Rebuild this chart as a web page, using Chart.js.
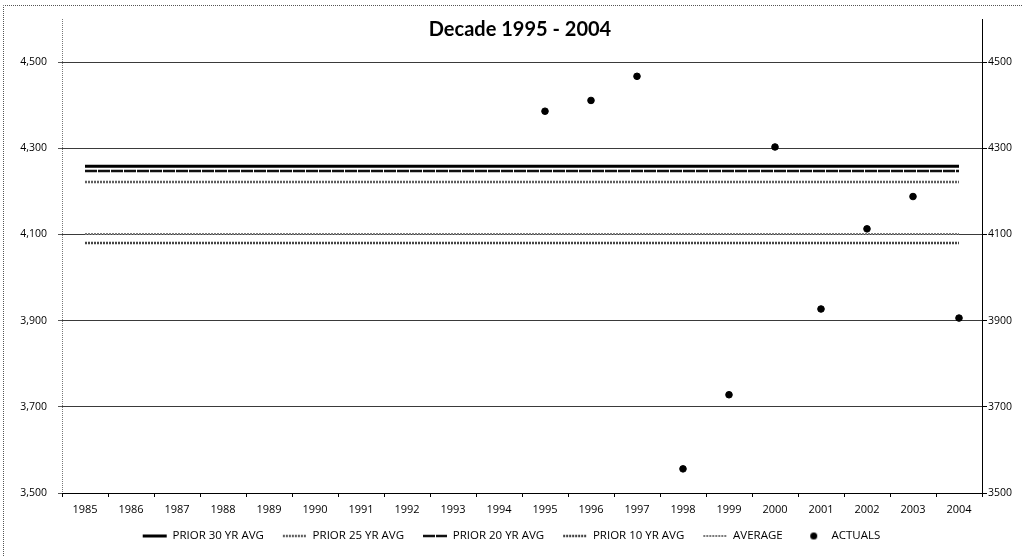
<!DOCTYPE html>
<html>
<head>
<meta charset="utf-8">
<script src="https://cdn.jsdelivr.net/npm/chart.js@4.4.1/dist/chart.umd.min.js"></script>
<style>
  html, body { margin: 0; padding: 0; background: #fff; }
  #wrap { width: 1023px; height: 556px; position: relative; }
</style>
</head>
<body>
<div id="wrap"><canvas id="c" width="1023" height="556"></canvas></div>
<script>
const chartTitle = 'Decade 1995 - 2004';
const years = ['1985','1986','1987','1988','1989','1990','1991','1992','1993','1994',
               '1995','1996','1997','1998','1999','2000','2001','2002','2003','2004'];
const prior30 = [4258,4258,4258,4258,4258,4258,4258,4258,4258,4258,4258,4258,4258,4258,4258,4258,4258,4258,4258,4258];
const prior25 = [4222,4222,4222,4222,4222,4222,4222,4222,4222,4222,4222,4222,4222,4222,4222,4222,4222,4222,4222,4222];
const prior20 = [4247,4247,4247,4247,4247,4247,4247,4247,4247,4247,4247,4247,4247,4247,4247,4247,4247,4247,4247,4247];
const prior10 = [4080,4080,4080,4080,4080,4080,4080,4080,4080,4080,4080,4080,4080,4080,4080,4080,4080,4080,4080,4080];
const average = [4101,4101,4101,4101,4101,4101,4101,4101,4101,4101,4101,4101,4101,4101,4101,4101,4101,4101,4101,4101];
const actuals = [null,null,null,null,null,null,null,null,null,null,
                 4386,4411,4467,3556,3728,4303,3927,4113,4188,3906];
const yTicks = [3500,3700,3900,4100,4300,4500];
const seriesNames = ['PRIOR 30 YR AVG','PRIOR 25 YR AVG','PRIOR 20 YR AVG','PRIOR 10 YR AVG','AVERAGE','ACTUALS'];

const FONT = '"Open Sans", sans-serif';
const TITLE_FONT = 'Lato, "Open Sans", sans-serif';
const LEGEND_SIZE = 11.5;
const LEGEND_PAD = 19;

// dot image for legend
const dot = document.createElement('canvas');
dot.width = 9; dot.height = 9;
(function(){ const g = dot.getContext('2d'); g.fillStyle = '#000'; g.beginPath(); g.arc(4.5,4.5,3.5,0,Math.PI*2); g.fill(); })();

const framePlugin = {
  id: 'frame',
  beforeLayout(chart) {
    const lg = chart.legend;
    if (lg && !lg.__patched) {
      const f = lg.fit;
      lg.fit = function() { f.call(this); this.height = 39; };
      lg.__patched = true;
    }
  },
  afterLayout(chart) {
    const lg = chart.legend;
    if (lg) {
      const top = 536 - LEGEND_PAD - LEGEND_SIZE / 2;
      lg.top = top; lg.bottom = top + lg.height;
    }
  },
  beforeDraw(chart) {
    const ctx = chart.ctx;
    ctx.save();
    ctx.fillStyle = '#fff';
    ctx.fillRect(0,0,chart.width,chart.height);
    ctx.strokeStyle = '#555';
    ctx.lineWidth = 1;
    ctx.setLineDash([1,1]);
    ctx.beginPath();
    ctx.moveTo(3.5, 556); ctx.lineTo(3.5, 5.5); ctx.lineTo(1023, 5.5);
    ctx.stroke();
    ctx.restore();
  },
  afterDraw(chart) {
    const ctx = chart.ctx;
    const a = chart.chartArea;
    ctx.save();
    // dotted left axis line
    ctx.strokeStyle = '#777';
    ctx.lineWidth = 1;
    ctx.setLineDash([1,1]);
    ctx.beginPath();
    ctx.moveTo(Math.round(a.left) + 0.5, a.top);
    ctx.lineTo(Math.round(a.left) + 0.5, a.bottom);
    ctx.stroke();
    ctx.setLineDash([]);
    ctx.fillStyle = '#000';
    ctx.font = 'bold 20px ' + TITLE_FONT;
    ctx.textAlign = 'center';
    ctx.textBaseline = 'middle';
    ctx.fillText(chartTitle, 520, 30);
    ctx.restore();
  }
};

const lineDs = (label, data, color, width, dash) => ({
  type: 'line', label, data, borderColor: color, backgroundColor: color,
  borderWidth: width, borderDash: dash, pointRadius: 0, pointHoverRadius: 0,
  fill: false, yAxisID: 'y', order: 2
});

new Chart(document.getElementById('c'), {
  type: 'line',
  data: {
    labels: years,
    datasets: [
      lineDs(seriesNames[0], prior30, '#000000', 3, []),
      lineDs(seriesNames[1], prior25, '#5e5e5e', 2.5, [2,1]),
      lineDs(seriesNames[2], prior20, '#111111', 2.5, [12,1]),
      lineDs(seriesNames[3], prior10, '#444444', 2.5, [2,1]),
      lineDs(seriesNames[4], average, '#7a7a7a', 2, [2,1]),
      {
        type: 'line', label: seriesNames[5], data: actuals, showLine: false,
        pointRadius: 3.3, pointHoverRadius: 3.3, pointBackgroundColor: '#000', pointBorderColor: '#000',
        borderColor: '#000', backgroundColor: '#000', yAxisID: 'y2', order: 1
      }
    ]
  },
  options: {
    responsive: false,
    animation: false,
    events: [],
    layout: { padding: { top: 19, left: 0, right: 0, bottom: 0 } },
    plugins: {
      tooltip: { enabled: false },
      title: { display: false },
      legend: {
        display: true,
        position: 'bottom',
        labels: {
          font: { family: FONT, size: LEGEND_SIZE },
          color: '#000',
          usePointStyle: true,
          pointStyleWidth: 24,
          boxHeight: 10,
          padding: LEGEND_PAD,
          generateLabels(chart) {
            return chart.data.datasets.map((ds, i) => {
              const isDot = ds.showLine === false;
              return {
                text: ds.label,
                datasetIndex: i,
                fillStyle: '#000',
                strokeStyle: ds.borderColor,
                lineWidth: isDot ? 1 : ds.borderWidth,
                lineDash: ds.borderDash || [],
                pointStyle: isDot ? dot : 'line',
                fontColor: '#000',
                hidden: false
              };
            });
          }
        }
      }
    },
    scales: {
      x: {
        type: 'category',
        offset: true,
        grid: { display: true, offset: true, drawOnChartArea: false, drawTicks: true, tickLength: 4, color: '#000' },
        border: { display: true, color: '#000', width: 1 },
        ticks: { font: { family: FONT, size: 11 }, color: '#000', padding: 6, maxRotation: 0, autoSkip: false },
        afterFit(s) { s.height = 24; }
      },
      y: {
        position: 'left',
        min: 3500, max: 4600,
        afterBuildTicks(s) { s.ticks = yTicks.map(v => ({ value: v })); },
        grid: { color: '#3a3a3a', lineWidth: 1, drawTicks: true, tickLength: 4, tickColor: '#555' },
        border: { display: false },
        ticks: {
          font: { family: FONT, size: 10.5 }, color: '#000', padding: 11,
          callback: v => v.toLocaleString('en-US')
        },
        afterFit(s) { s.width = 62; }
      },
      y2: {
        position: 'right',
        min: 3500, max: 4600,
        afterBuildTicks(s) { s.ticks = yTicks.map(v => ({ value: v })); },
        grid: { drawOnChartArea: false, drawTicks: true, tickLength: 5, color: '#000' },
        border: { display: true, color: '#000', width: 1 },
        ticks: {
          font: { family: FONT, size: 10.5 }, color: '#000', padding: 1,
          callback: v => String(v)
        },
        afterFit(s) { s.width = 41; }
      }
    }
  },
  plugins: [framePlugin]
});
</script>
</body>
</html>
